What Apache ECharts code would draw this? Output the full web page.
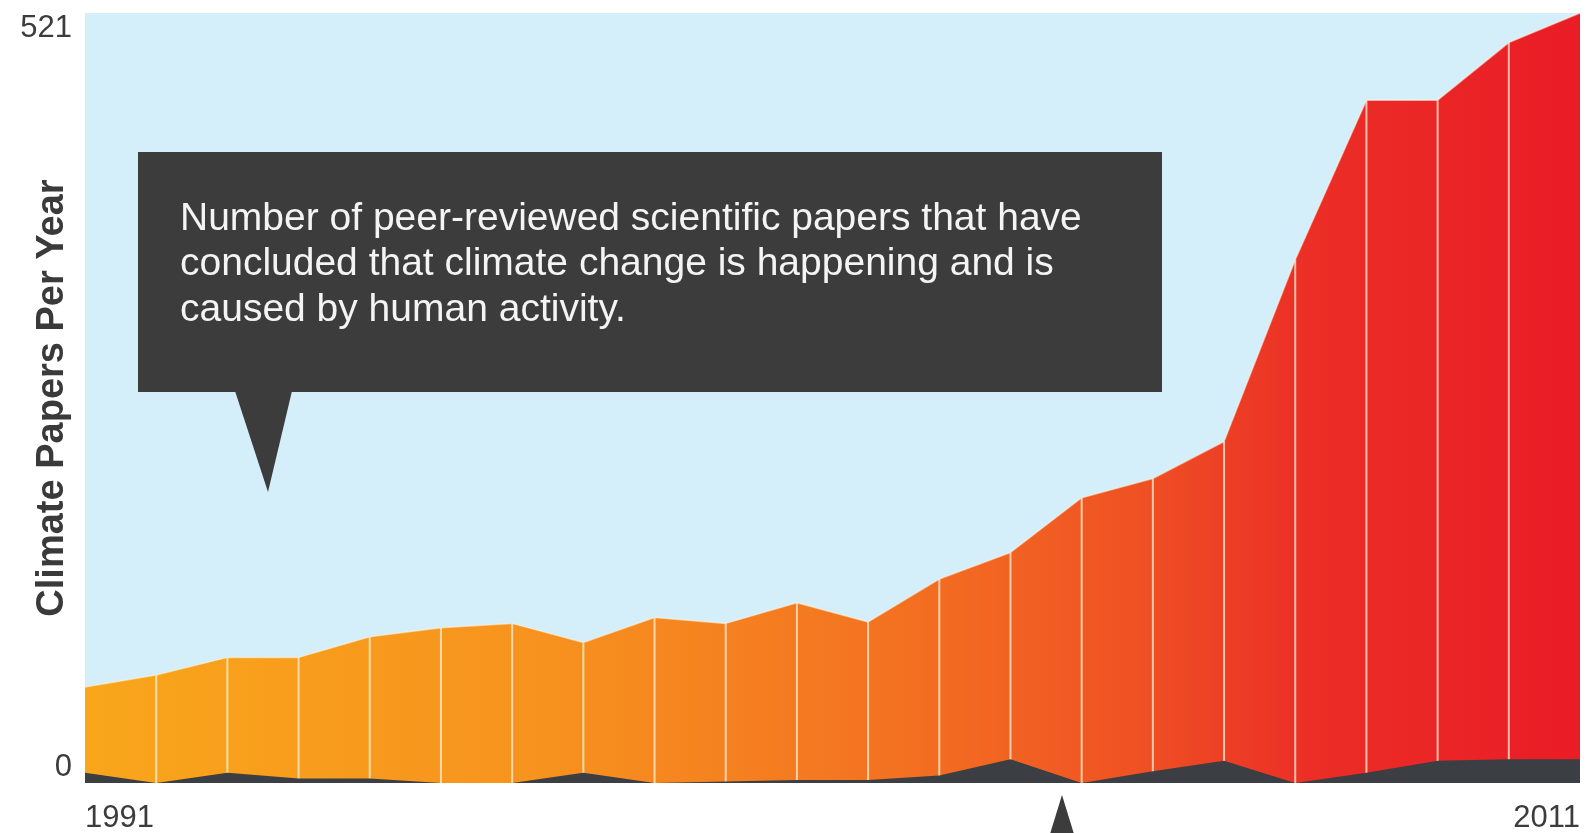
<!DOCTYPE html>
<html>
<head>
<meta charset="utf-8">
<script src="https://cdn.jsdelivr.net/npm/echarts@6/dist/echarts.min.js"></script>
<style>
  html, body { margin: 0; padding: 0; background: #ffffff; }
  #chart { width: 1587px; height: 833px; }
</style>
</head>
<body>
<div id="chart"></div>
<script>
// ---- data ----
const xTickLabels = ['1991', '', '', '', '', '', '', '', '', '', '', '', '', '', '', '', '', '', '', '', '', '2011'];
const endorsingPapers = [65, 73, 85, 85, 99, 105, 108, 95, 112, 108, 122, 109, 138, 156, 193, 206, 231, 354, 462, 462, 501, 521];
const rejectingPapers = [7, 0, 7, 3, 3, 0, 0, 7, 0, 1, 2, 2, 5, 16, 0, 8, 15, 0, 7, 15, 16, 16];
const yTickValues = [0, 521];
const yAxisTitle = 'Climate Papers Per Year';
const noteText = 'Number of peer-reviewed scientific papers that have\nconcluded that climate change is happening and is\ncaused by human activity.';

const FONT = '"Liberation Sans", Arial, Helvetica, sans-serif';
const chart = echarts.init(document.getElementById('chart'), null, { renderer: 'canvas' });

// year separators: thin bars at each interior year, same heights as the area
const separatorData = endorsingPapers.map((v, i) => (i === 0 || i === endorsingPapers.length - 1) ? null : v);

const option = {
  backgroundColor: '#ffffff',
  animation: false,
  grid: {
    left: 85, right: 7, top: 13, bottom: 50,
    containLabel: false,
    outerBoundsMode: 'none',
    show: true, backgroundColor: '#d4eff9', borderWidth: 0
  },
  xAxis: {
    type: 'category',
    data: xTickLabels,
    boundaryGap: false,
    axisLine: { show: false },
    axisTick: { show: false },
    splitLine: { show: false },
    axisLabel: {
      interval: 0,
      margin: 20,
      fontSize: 31,
      fontFamily: FONT,
      color: '#3c3c3c',
      alignMinLabel: 'left',
      alignMaxLabel: 'right'
    }
  },
  yAxis: {
    type: 'value',
    min: yTickValues[0],
    max: yTickValues[1],
    interval: yTickValues[1] - yTickValues[0],
    name: yAxisTitle,
    nameLocation: 'middle',
    nameRotate: 90,
    nameGap: 13,
    nameMoveOverlap: false,
    nameTextStyle: { fontSize: 38, fontWeight: 'bold', fontFamily: FONT, color: '#3a3a3a' },
    axisLine: { show: false },
    axisTick: { show: false },
    splitLine: { show: false },
    axisLabel: {
      margin: 13,
      fontSize: 31,
      fontFamily: FONT,
      color: '#3c3c3c',
      verticalAlignMaxLabel: 'top',
      verticalAlignMinLabel: 'bottom'
    }
  },
  series: [
    {
      name: 'Endorsing',
      type: 'line',
      data: endorsingPapers,
      symbol: 'none',
      z: 2,
      lineStyle: { color: 'rgba(255,245,225,0.55)', width: 1.5 },
      areaStyle: {
        opacity: 1,
        color: new echarts.graphic.LinearGradient(0, 0, 1, 0, [
          { offset: 0, color: '#f9a61b' },
          { offset: 0.3, color: '#f7931e' },
          { offset: 0.55, color: '#f37021' },
          { offset: 0.7, color: '#ef5223' },
          { offset: 0.82, color: '#eb2e26' },
          { offset: 1, color: '#ea1c26' }
        ])
      }
    },
    {
      name: 'Year lines',
      type: 'bar',
      data: separatorData,
      barWidth: 2,
      z: 3,
      itemStyle: { color: 'rgba(255,240,215,0.75)' }
    },
    {
      name: 'Rejecting',
      type: 'line',
      data: rejectingPapers,
      symbol: 'none',
      z: 4,
      lineStyle: { width: 0 },
      areaStyle: { opacity: 1, color: '#3b3e43' }
    }
  ],
  graphic: [
    {
      type: 'rect',
      shape: { x: 138, y: 152, width: 1024, height: 240 },
      style: { fill: '#3c3c3c' },
      z: 10
    },
    {
      type: 'polygon',
      shape: { points: [[235, 391], [292, 391], [268, 492]] },
      style: { fill: '#3c3c3c' },
      z: 10
    },
    {
      type: 'text',
      x: 180,
      y: 196,
      style: {
        text: noteText,
        fill: '#f4f4f4',
        font: '39px ' + FONT,
        lineHeight: 45.5,
        verticalAlign: 'top'
      },
      z: 11
    },
    {
      type: 'polygon',
      shape: { points: [[1062, 795], [1082, 860], [1042, 860]] },
      style: { fill: '#3c3c3c' },
      z: 10
    }
  ]
};

chart.setOption(option);
</script>
</body>
</html>
